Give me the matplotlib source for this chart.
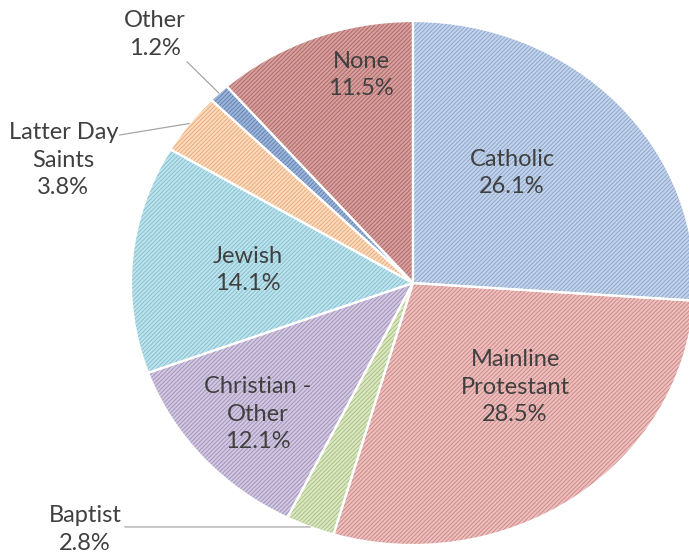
import numpy as np
import matplotlib

matplotlib.use("Agg")

import matplotlib.pyplot as plt

# Religious affiliation shares, clockwise from 12 o'clock
groups = [
    "Catholic",
    "Mainline\nProtestant",
    "Baptist",
    "Christian -\nOther",
    "Jewish",
    "Latter Day\nSaints",
    "Other",
    "None",
]
shares = [26.1, 28.5, 2.8, 12.1, 14.1, 3.8, 1.2, 11.5]

fills = ["#c3d3ea", "#ecc0bf", "#dbe7c4", "#d2c8e0", "#bfe3ec", "#fcdabc", "#9cb4d8", "#d7a09e"]
stripes = ["#8ea7cd", "#cf8a88", "#a9c381", "#a394bd", "#86c2d2", "#e8ac7d", "#6483b3", "#ae6a68"]

# label centres in data units; outside labels also get a leader start point
inside_pos = {
    "Catholic": (0.351, 0.420),
    "Mainline\nProtestant": (0.362, -0.397),
    "Christian -\nOther": (-0.550, -0.500),
    "Jewish": (-0.585, 0.050),
    "None": (-0.184, 0.794),
}
outside_pos = {
    "Other": ((-0.915, 0.947), (-0.801, 0.844)),
    "Latter Day\nSaints": ((-1.240, 0.469), (-1.040, 0.565)),
    "Baptist": ((-1.163, -0.940), (-1.021, -0.931)),
}

plt.rcParams["hatch.linewidth"] = 0.7
text_color = "#404040"
font = dict(family="Lato", size=17, color=text_color, linespacing=1.4)

fig = plt.figure(figsize=(6.89, 5.57), dpi=100)
ax = fig.add_axes([0.1901, 0.0215, 0.8186, 0.9408])

wedges, _ = ax.pie(shares, colors=fills, startangle=90, counterclock=False,
                   wedgeprops=dict(linewidth=0))
for w, hc in zip(wedges, stripes):
    w.set_edgecolor(hc)
    w.set_hatch("////////")
    w.set_linewidth(0)

# white separators between slices
ax.pie(shares, colors=["none"] * len(shares), startangle=90, counterclock=False,
       wedgeprops=dict(edgecolor="white", linewidth=1.6, fill=False))

ax.set_aspect("auto")
ax.set_xlim(-1, 1)
ax.set_ylim(-1, 1)
ax.axis("off")

for w, name, val in zip(wedges, groups, shares):
    label = f"{name}\n{val:.1f}%"
    if name in inside_pos:
        x, y = inside_pos[name]
        ax.text(x, y, label, ha="center", va="center", **font)
    else:
        (tx, ty), (lx, ly) = outside_pos[name]
        mid = np.deg2rad((w.theta1 + w.theta2) / 2)
        ax.plot([lx, np.cos(mid)], [ly, np.sin(mid)], color="#a6a6a6", lw=0.9,
                clip_on=False)
        ax.text(tx, ty, label, ha="center", va="center", **font)

fig.savefig("out.png", dpi=100)
